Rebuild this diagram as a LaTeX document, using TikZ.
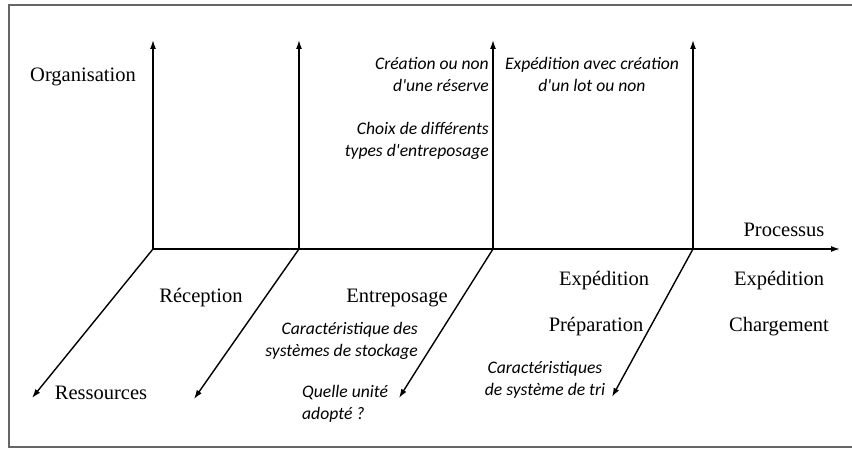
\documentclass[tikz,border=0pt]{standalone}
\usepackage{fontspec}
\setmainfont{Liberation Serif}
\newfontfamily\notefont{Carlito}
\usetikzlibrary{arrows.meta}

\tikzset{
  axis/.style={line width=1.4pt, -{Latex[length=9pt,width=6pt]}},
  stage/.style={font=\fontsize{20.5}{24}\selectfont, inner sep=0pt},
  note/.style={font=\notefont\itshape\fontsize{17.6}{22}\selectfont, inner sep=0pt},
}

\begin{document}
\begin{tikzpicture}[x=1pt, y=-1pt]
    \useasboundingbox (0,0) rectangle (852,449);
    % Frame (open on the right)
    \draw[gray!80!black, line width=2pt] (852,5) -- (9,5) -- (9,447) -- (852,447);

    % Axis points
    \coordinate (o1) at (153,249);
    \coordinate (o2) at (299,249);
    \coordinate (o3) at (493,249);
    \coordinate (o4) at (693,249);
    \coordinate (pEnd) at (840,249);
    \coordinate (u1) at (153,40);
    \coordinate (u2) at (299,40);
    \coordinate (u3) at (493,40);
    \coordinate (u4) at (693,40);
    \coordinate (d1) at (32,398);
    \coordinate (d2) at (194,399);
    \coordinate (d3) at (399,398);
    \coordinate (d4) at (612,397);

    % Process axis
    \draw[axis] (o1) -- (pEnd);
    % Organisation axes
    \draw[axis] (o1) -- (u1);
    \draw[axis] (o2) -- (u2);
    \draw[axis] (o3) -- (u3);
    \draw[axis] (o4) -- (u4);
    % Resource axes
    \draw[axis] (o1) -- (d1);
    \draw[axis] (o2) -- (d2);
    \draw[axis] (o3) -- (d3);
    \draw[axis] (o4) -- (d4);

    % Axis labels
    \node[stage] (organisation) at (83,77) {Organisation};
    \node[stage] (processus) at (784,230) {Processus};
    \node[stage] (ressources) at (101,393) {Ressources};

    % Stages
    \node[stage] (reception) at (201,298) {Réception};
    \node[stage] (entreposage) at (397,298) {Entreposage};
    \node[stage] (expedition) at (604,281) {Expédition};
    \node[stage] (preparation) at (596,327) {Préparation};
    \node[stage] (expedition2) at (779,281) {Expédition};
    \node[stage] (chargement) at (779,327) {Chargement};

    % Notes
    \node[note, anchor=east, align=right] (reserve) at (489,74) {Création ou non\\d'une réserve};
    \node[note, anchor=east, align=right] (choix) at (489,141) {Choix de différents\\types d'entreposage};
    \node[note, align=center] (lot) at (592,74) {Expédition avec création\\d'un lot ou non};
    \node[note, anchor=east, align=right] (stockage) at (418,341) {Caractéristique des\\systèmes de stockage};
    \node[note, anchor=west, align=left] (unite) at (302,404) {Quelle unité\\adopté ?};
    \node[note, align=center] (tri) at (545,380) {Caractéristiques\\de système de tri};
\end{tikzpicture}
\end{document}
